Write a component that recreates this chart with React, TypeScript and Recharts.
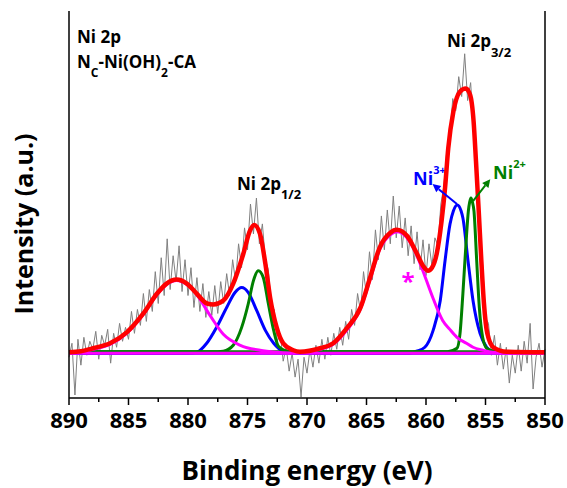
import React from 'react'
import { LineChart, Line, XAxis, YAxis, ReferenceLine } from 'recharts'

// raw Ni 2p scan, 890 -> 850 eV in 0.25 eV steps (intensity in a.u.)
const rawStart = 890
const rawStep = 0.25
const rawCounts = [
  -4, 10, -42, 14, -12, 16, -2, 12, 4, 22, -6, 18, 8, 24, -10, 20, 6, 30, 12, 26,
  14, 42, 20, 44, 28, 60, 32, 64, 42, 82, 50, 96, 58, 115, 64, 98, 72, 108, 62, 94,
  58, 86, 46, 76, 42, 70, 36, 62, 38, 68, 40, 72, 50, 80, 58, 94, 72, 110, 86, 126,
  104, 150, 120, 156, 110, 130, 94, 84, 48, 44, 12, 20, -8, 6, -18, 0, -24, -6, -44, -4,
  -20, 4, -14, 8, -10, 14, -6, 16, -2, 20, 4, 26, 8, 32, 14, 44, 28, 60, 42, 82,
  58, 102, 74, 124, 94, 138, 104, 144, 110, 158, 116, 148, 106, 136, 98, 128, 90, 122, 84, 114,
  78, 110, 88, 116, 108, 150, 168, 204, 218, 256, 244, 278, 258, 301, 254, 272, 226, 196, 120, 92,
  36, 30, -2, 18, -12, 10, -16, 6, -30, -2, -20, 8, -18, 12, -10, 30, -36, -4, 10, -14,
  4,
]

// fitted curves, [binding energy, intensity]
const envelope: [number, number][] = [
  [890, 1], [889, 2], [887.96, 5], [886.55, 10], [885.15, 21], [883.75, 40], [882.6, 60],
  [881.8, 70], [880.95, 74], [880.1, 70], [879.27, 60], [878.4, 50], [877.87, 49], [877.03, 53],
  [876.2, 70], [875.35, 100], [874.8, 123], [874.43, 129], [873.95, 120], [873.5, 90],
  [873.1, 56], [872.55, 26], [872, 10], [871.15, 3], [870.6, 1.5], [868.9, 5], [867.8, 10],
  [866.67, 25], [865.5, 46], [864.7, 76], [863.9, 106], [863, 121], [862.46, 124], [861.6, 118],
  [860.8, 101], [860.2, 87], [859.83, 83], [859.5, 86], [859.1, 100], [858.69, 133],
  [858.4, 166], [858.13, 206], [857.7, 243], [857.14, 263], [856.66, 266], [856.3, 260],
  [856, 233], [855.8, 193], [855.57, 143], [855.35, 93], [855.13, 50], [854.85, 20],
  [854.34, 6], [853.2, 1.5], [850, 1],
]
const ni3Half: [number, number][] = [
  [890, 0], [880, 0], [879.27, 1], [878.43, 10], [877.6, 26], [876.75, 46], [876.05, 61],
  [875.49, 66], [874.93, 61], [874.23, 43], [873.5, 23], [872.8, 10], [872, 2], [871, 0], [850, 0],
]
const ni2Half: [number, number][] = [
  [890, 1.5], [877.5, 1.5], [877.03, 2], [876.2, 8], [875.49, 26], [874.93, 50], [874.5, 73],
  [874.09, 83], [873.67, 76], [873.25, 50], [872.8, 23], [872.4, 7], [871.6, 2], [871, 1.5], [850, 1.5],
]
const satHalf: [number, number][] = [
  [890, 0], [889, 1], [887.96, 4], [886.55, 9], [885.15, 20], [883.75, 39], [882.6, 59],
  [881.8, 69], [880.95, 73], [880.1, 69], [879.27, 59], [878.15, 38], [877.03, 19],
  [875.6, 8], [873.95, 3], [872.5, 1], [871, 0], [850, 0],
]
const ni3Main: [number, number][] = [
  [890, 0], [861.5, 0], [860.8, 2], [860.1, 6], [859.4, 23], [858.8, 53], [858.4, 93],
  [857.98, 130], [857.7, 143], [857.37, 149], [857.05, 143], [856.9, 136], [856.47, 93],
  [856.05, 53], [855.46, 20], [854.9, 6], [854.3, 1], [853.5, 0], [850, 0],
]
const ni2Main: [number, number][] = [
  [890, 1.5], [858.2, 1.5], [857.4, 5], [857.14, 20], [856.9, 60], [856.64, 110], [856.44, 143],
  [856.33, 152], [856.22, 156], [856.1, 152], [855.97, 143], [855.74, 93], [855.52, 46],
  [855.24, 16], [854.9, 5], [854.3, 2], [853.8, 1.5], [850, 1.5],
]
const satMain: [number, number][] = [
  [890, 0], [871.5, 0], [870.6, 1], [868.9, 4], [867.8, 9], [866.67, 23], [865.5, 45],
  [864.7, 74], [863.9, 104], [863, 119], [862.46, 122], [861.6, 116], [860.8, 99],
  [860.36, 86], [859.4, 55], [858.6, 33], [858, 24], [857.4, 16], [856.6, 10], [856.05, 6],
  [855.2, 3], [854.4, 1], [853, 0], [850, 0],
]

const xTicks = [850, 852.5, 855, 857.5, 860, 862.5, 865, 867.5, 870, 872.5, 875, 877.5, 880, 882.5, 885, 887.5, 890]
const xLabels = [850, 855, 860, 865, 870, 875, 880, 885, 890]
const yTicks = [-43, 0, 43, 86, 129, 172, 215, 258, 301, 344]

const rawRows = rawCounts.map((y, i) => ({ e: rawStart - i * rawStep, y }))
const rows = (pts: [number, number][]) => pts.map(([e, y]) => ({ e, y }))

const font = "'Open Sans', sans-serif"

function BottomTick(props: any) {
  const { x, y, payload } = props
  const major = xLabels.includes(payload.value)
  return (
    <g>
      <line x1={x} y1={y} x2={x} y2={y + (major ? 7 : 4)} stroke="#000" strokeWidth={1.5} />
      {major && (
        <text x={x} y={y + 30} textAnchor="middle" fontFamily={font} fontWeight={700} fontSize={22} fill="#000">
          {payload.value}
        </text>
      )}
    </g>
  )
}

function arrow(color: string) {
  return (p: any) => {
    const { x1, y1, x2, y2 } = p
    const a = Math.atan2(y2 - y1, x2 - x1)
    const L = 8
    const W = 4
    const bx = x2 - L * Math.cos(a)
    const by = y2 - L * Math.sin(a)
    const pts = `${x2},${y2} ${bx + W * Math.sin(a)},${by - W * Math.cos(a)} ${bx - W * Math.sin(a)},${by + W * Math.cos(a)}`
    return (
      <g>
        <line x1={x1} y1={y1} x2={bx} y2={by} stroke={color} strokeWidth={2} />
        <polygon points={pts} fill={color} />
      </g>
    )
  }
}

export default function App() {
  const txt = { fontFamily: font, fontWeight: 700 }
  return (
    <div style={{ position: 'absolute', left: 0, top: 0, background: '#fff' }}>
      <LineChart width={567} height={488} margin={{ top: 11, right: 22, bottom: 0, left: 69 }}>
        <XAxis
          xAxisId="bottom" dataKey="e" type="number" domain={[850, 890]} reversed ticks={xTicks}
          height={90} tickSize={0} tickMargin={0} tickLine={false} tick={<BottomTick />}
          axisLine={{ stroke: '#000', strokeWidth: 1.5 }} interval={0}
        />
        <XAxis
          xAxisId="top" orientation="top" dataKey="e" type="number" domain={[850, 890]} reversed
          ticks={xTicks} mirror tick={false} tickSize={4} height={0} interval={0}
          axisLine={{ stroke: '#000', strokeWidth: 1.5 }} tickLine={{ stroke: '#000', strokeWidth: 1.2 }}
        />
        <YAxis
          yAxisId="left" type="number" domain={[-45, 344]} ticks={yTicks} mirror tick={false}
          tickSize={5} interval={0} axisLine={{ stroke: '#000', strokeWidth: 1.5 }}
          tickLine={{ stroke: '#000', strokeWidth: 1.2 }}
        />
        <YAxis
          yAxisId="right" orientation="right" type="number" domain={[-45, 344]} ticks={yTicks} mirror
          tick={false} tickSize={5} interval={0} axisLine={{ stroke: '#000', strokeWidth: 1.5 }}
          tickLine={{ stroke: '#000', strokeWidth: 1.2 }}
        />

        <Line data={rawRows} dataKey="y" xAxisId="bottom" yAxisId="left" type="linear" stroke="#808080" strokeWidth={1} dot={false} isAnimationActive={false} />
        <Line data={rows(ni3Half)} dataKey="y" xAxisId="bottom" yAxisId="left" type="monotone" stroke="#0000ff" strokeWidth={3} dot={false} isAnimationActive={false} />
        <Line data={rows(ni3Main)} dataKey="y" xAxisId="bottom" yAxisId="left" type="monotone" stroke="#0000ff" strokeWidth={3} dot={false} isAnimationActive={false} />
        <Line data={rows(ni2Half)} dataKey="y" xAxisId="bottom" yAxisId="left" type="monotone" stroke="#008000" strokeWidth={3} dot={false} isAnimationActive={false} />
        <Line data={rows(ni2Main)} dataKey="y" xAxisId="bottom" yAxisId="left" type="monotone" stroke="#008000" strokeWidth={3} dot={false} isAnimationActive={false} />
        <Line data={rows(satHalf)} dataKey="y" xAxisId="bottom" yAxisId="left" type="monotone" stroke="#ff00ff" strokeWidth={3} dot={false} isAnimationActive={false} />
        <Line data={rows(satMain)} dataKey="y" xAxisId="bottom" yAxisId="left" type="monotone" stroke="#ff00ff" strokeWidth={3} dot={false} isAnimationActive={false} />
        <Line data={rows(envelope)} dataKey="y" xAxisId="bottom" yAxisId="left" type="monotone" stroke="#ff0000" strokeWidth={4.5} dot={false} isAnimationActive={false} />

        <ReferenceLine xAxisId="bottom" yAxisId="left" segment={[{ x: 857.4, y: 150 }, { x: 859.45, y: 170 }]} shape={arrow('#0000ff')} />
        <ReferenceLine xAxisId="bottom" yAxisId="left" segment={[{ x: 856.05, y: 153 }, { x: 854.6, y: 175 }]} shape={arrow('#008000')} />

        <g>
          <text x={77} y={43} fontSize={17} fill="#000" {...txt}>Ni 2p</text>
          <text x={77} y={68} fontSize={17} fill="#000" {...txt}>
            N<tspan fontSize={12} dy={9}>C</tspan>
            <tspan dy={-9}>-Ni(OH)</tspan>
            <tspan fontSize={12} dy={9}>2</tspan>
            <tspan dy={-9}>-CA</tspan>
          </text>
          <text x={237} y={190} fontSize={17} fill="#000" {...txt}>
            Ni 2p<tspan fontSize={13} dy={9}>1/2</tspan>
          </text>
          <text x={447} y={47} fontSize={17} fill="#000" {...txt}>
            Ni 2p<tspan fontSize={13} dy={10}>3/2</tspan>
          </text>
          <text x={413} y={185} fontSize={18} fill="#0000ff" {...txt}>
            Ni<tspan fontSize={11} dy={-11}>3+</tspan>
          </text>
          <text x={493} y={179} fontSize={18} fill="#008000" {...txt}>
            Ni<tspan fontSize={11} dy={-11}>2+</tspan>
          </text>
          <text x={408} y={290} fontSize={24} fill="#ff00ff" textAnchor="middle" {...txt}>*</text>
          <text x={307} y={480} fontSize={26} fill="#000" textAnchor="middle" {...txt}>Binding energy (eV)</text>
          <text x={33} y={224} fontSize={25} fill="#000" textAnchor="middle" transform="rotate(-90 33 224)" {...txt}>
            Intensity (a.u.)
          </text>
        </g>
      </LineChart>
    </div>
  )
}
